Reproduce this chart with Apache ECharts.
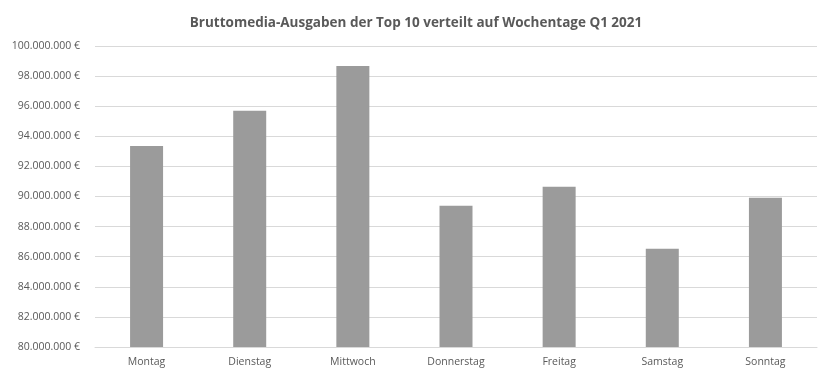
<!DOCTYPE html>
<html>
<head>
<meta charset="utf-8">
<script src="https://cdn.jsdelivr.net/npm/echarts@6/dist/echarts.min.js"></script>
<style>html,body{margin:0;padding:0;background:#fff}#c{width:832px;height:379px}</style>
</head>
<body>
<div id="c"></div>
<script>
var titleText = 'Bruttomedia-Ausgaben der Top 10 verteilt auf Wochentage Q1 2021';
var categories = ['Montag', 'Dienstag', 'Mittwoch', 'Donnerstag', 'Freitag', 'Samstag', 'Sonntag'];
var values = [93360000, 95690000, 98670000, 89380000, 90640000, 86530000, 89910000];
var yMin = 80000000, yMax = 100000000, yStep = 2000000;

function fmt(v) {
  return String(Math.round(v)).replace(/\B(?=(\d{3})+(?!\d))/g, '.') + ' €';
}

var chart = echarts.init(document.getElementById('c'));
chart.setOption({
  animation: false,
  backgroundColor: '#fff',
  title: {
    text: titleText,
    left: 'center',
    top: 11,
    textStyle: { fontFamily: 'Open Sans', fontWeight: 'bold', fontSize: 13.5, color: '#595959' }
  },
  grid: { left: 95, right: 15, top: 46, bottom: 32, containLabel: false },
  xAxis: {
    type: 'category',
    data: categories,
    axisLine: { lineStyle: { color: '#d9d9d9', width: 1 } },
    axisTick: { show: false },
    axisLabel: { color: '#595959', fontFamily: 'Open Sans', fontSize: 10.5, margin: 10 }
  },
  yAxis: {
    type: 'value',
    min: yMin, max: yMax, interval: yStep,
    axisLine: { show: false },
    axisTick: { show: false },
    splitLine: { lineStyle: { color: '#d9d9d9', width: 1 } },
    axisLabel: { color: '#595959', fontFamily: 'Open Sans', fontSize: 10.5, margin: 15, formatter: fmt }
  },
  series: [{
    type: 'bar',
    data: values,
    barWidth: 33,
    itemStyle: { color: '#9b9b9b' }
  }]
});
</script>
</body>
</html>
